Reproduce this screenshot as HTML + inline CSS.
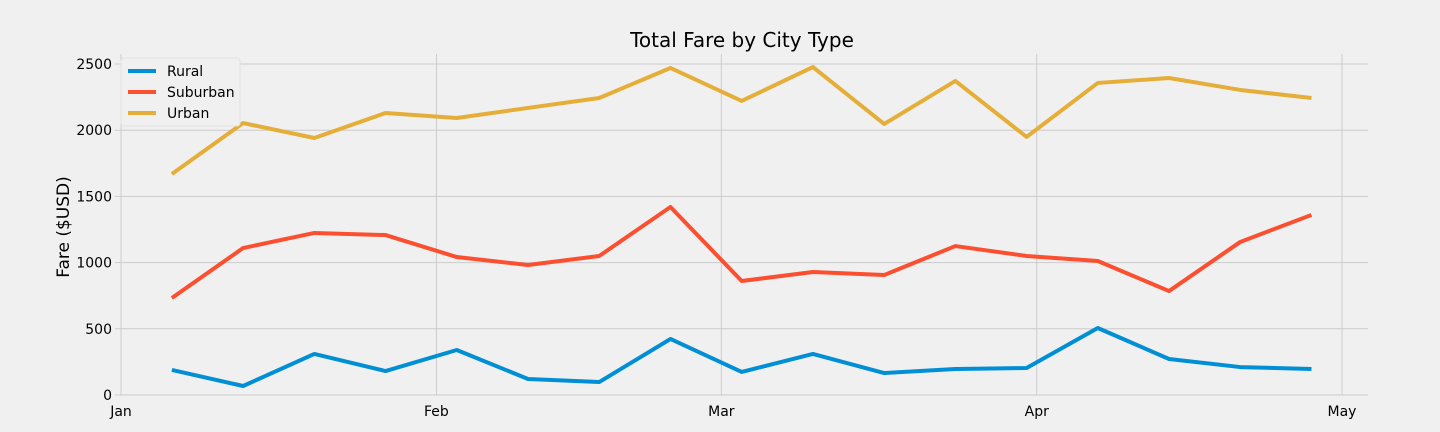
<!DOCTYPE html>
<html><head><meta charset="utf-8"><style>
body{margin:0;background:#f0f0f0;}
svg{display:block;font-family:"DejaVu Sans","Liberation Sans",sans-serif;}
</style></head><body>
<svg id="chart" width="1440" height="432">
<rect width="1440" height="432" fill="#f0f0f0"/>
<g id="grid"></g><g id="series"></g><g id="ticks"></g>
<text x="742" y="47" font-size="20" text-anchor="middle" fill="#000">Total Fare by City Type</text>
<text x="69" y="227" font-size="17" text-anchor="middle" transform="rotate(-90 69 227)" fill="#000">Fare ($USD)</text>
<g>
<rect x="121" y="58" width="119" height="68" fill="#f0f0f0" stroke="#e2e2e2" rx="3"/>
<g id="legend"></g>
</g>
</svg>
<script>
const days=[5,12,19,26,33,40,47,54,61,68,75,82,89,96,103,110,117];
const rural=[189,68,310,181,340,121,98,423,174,310,166,196,204,506,272,211,196];
const suburban=[733,1110,1224,1208,1042,982,1050,1420,861,929,906,1125,1050,1012,785,1156,1360];
const urban=[1669,2054,1941,2130,2092,2168,2243,2470,2221,2477,2047,2372,1949,2357,2394,2304,2243];
const yTicks=[0,500,1000,1500,2000,2500];
const xTickDays=[0,31,59,90,120];
const xTickLabels=["Jan","Feb","Mar","Apr","May"];
const seriesNames=["Rural","Suburban","Urban"];
const colors=["#008fd5","#fc4f30","#e5ae38"];
const X=d=>121+d*10.175, Y=v=>395-v*0.1324;
const NS="http://www.w3.org/2000/svg";
function mk(t,a,p){const e=document.createElementNS(NS,t);for(const k in a)e.setAttribute(k,a[k]);p.appendChild(e);return e;}
const grid=document.getElementById('grid'),ticks=document.getElementById('ticks'),ser=document.getElementById('series'),leg=document.getElementById('legend');
yTicks.forEach(v=>{
 const l=mk('line',{x1:115,x2:1368,y1:Y(v),y2:Y(v),stroke:'#cbcbcb','stroke-width':1},grid);
 
 
 const t=mk('text',{x:112,y:Y(v)+5,'font-size':14,'text-anchor':'end'},ticks);t.textContent=v;
 
 
});
xTickDays.forEach((d,i)=>{
 const l=mk('line',{x1:X(d),x2:X(d),y1:54,y2:395,stroke:'#cbcbcb','stroke-width':1},grid);
 
 
 const t=mk('text',{x:X(d),y:416,'font-size':14,'text-anchor':'middle'},ticks);t.textContent=xTickLabels[i];
 
 
});
[rural,suburban,urban].forEach((s,i)=>{
 const p=mk('polyline',{points:s.map((v,j)=>X(days[j])+','+Y(v)).join(' '),fill:'none',stroke:colors[i],'stroke-width':4,'stroke-linejoin':'round'},ser);
 
 
 const y=71+i*21;
 const ll=mk('line',{x1:128,x2:156,y1:y,y2:y,stroke:colors[i],'stroke-width':4},leg);
 
 
 const t=mk('text',{x:167,y:y+5,'font-size':14},leg);t.textContent=seriesNames[i];
 
 
});
</script>
</body></html>
